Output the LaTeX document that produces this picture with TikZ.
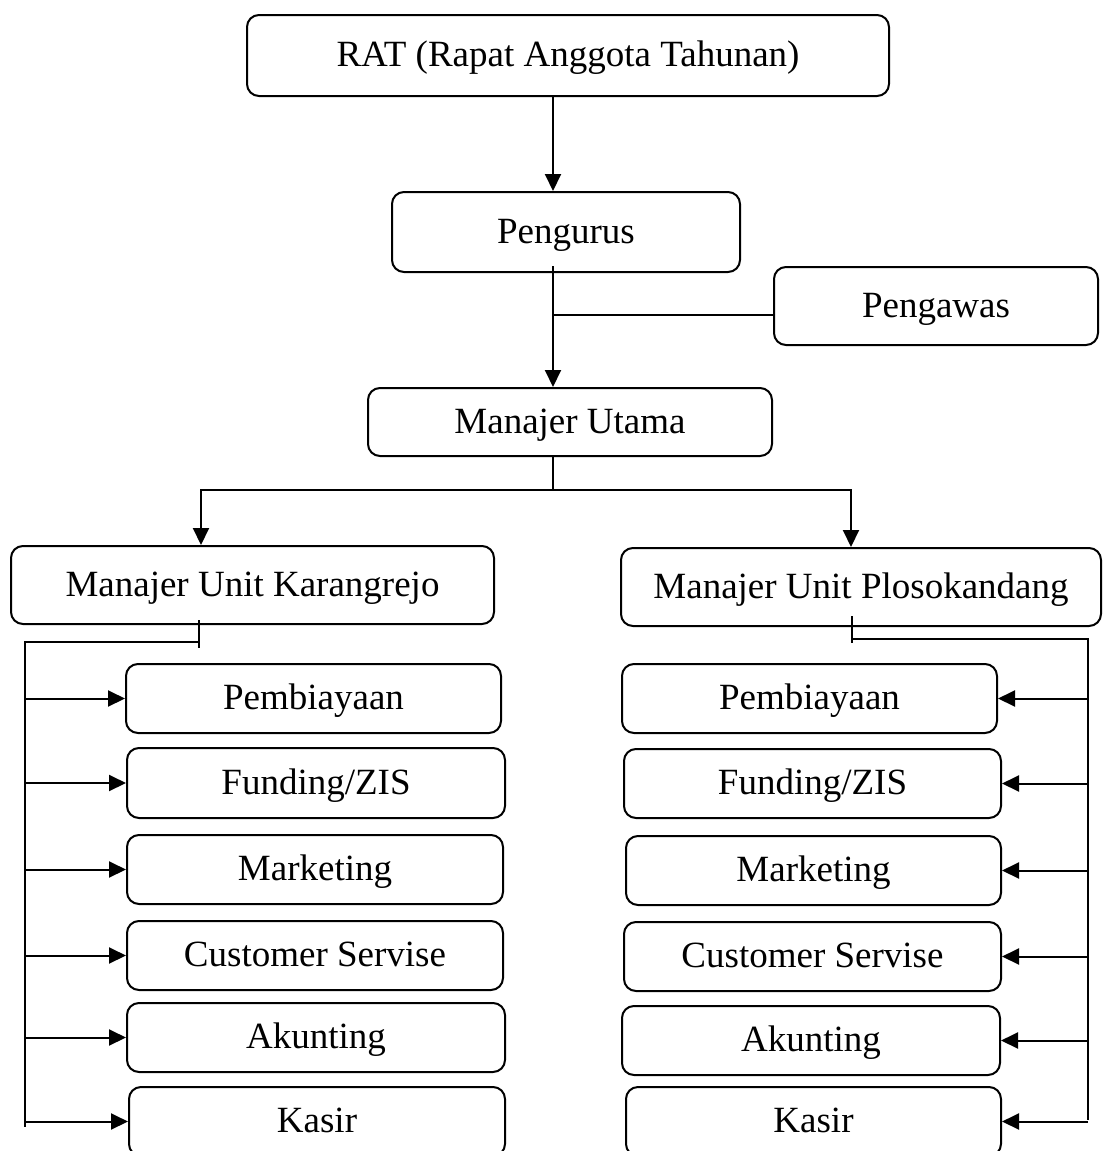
\documentclass[tikz,border=0pt]{standalone}
\usepackage{fontspec}
\setmainfont{Liberation Serif}
\usetikzlibrary{arrows.meta}
\tikzset{
  box/.style={draw, line width=2pt, rounded corners=12pt, inner sep=0pt, align=center,
    text height=28pt, text depth=6pt,
    font=\fontsize{37pt}{44pt}\selectfont},
  conn/.style={line width=2pt},
  arr/.style={line width=2pt, -{Triangle[length=17pt,width=16pt]}},
}
\begin{document}
\begin{tikzpicture}[x=1pt,y=-1pt]
\useasboundingbox (0,0) rectangle (1103,1151);
% top levels
\node[box, minimum width=642pt, minimum height=81pt] (RAT) at (568,55.5) {RAT (Rapat Anggota Tahunan)};
\node[box, minimum width=348pt, minimum height=80pt] (Peng) at (566,232) {Pengurus};
\node[box, minimum width=324pt, minimum height=78pt] (Pengawas) at (936,306) {Pengawas};
\node[box, minimum width=404pt, minimum height=68pt] (Utama) at (570,422) {Manajer Utama};
\node[box, minimum width=483pt, minimum height=78pt] (Karang) at (252.5,585) {Manajer Unit Karangrejo};
\node[box, minimum width=480pt, minimum height=78pt] (Ploso) at (861,587) {Manajer Unit Plosokandang};
% left children
\node[box, minimum width=375pt, minimum height=69pt] (LPem) at (313.5,698.5) {Pembiayaan};
\node[box, minimum width=378pt, minimum height=70pt] (LFun) at (316,783) {Funding/ZIS};
\node[box, minimum width=376pt, minimum height=69pt] (LMar) at (315,869.5) {Marketing};
\node[box, minimum width=376pt, minimum height=69pt] (LCus) at (315,955.5) {Customer Servise};
\node[box, minimum width=378pt, minimum height=69pt] (LAku) at (316,1037.5) {Akunting};
\node[box, minimum width=376pt, minimum height=69pt] (LKas) at (317,1121.5) {Kasir};
% right children
\node[box, minimum width=375pt, minimum height=69pt] (RPem) at (809.5,698.5) {Pembiayaan};
\node[box, minimum width=377pt, minimum height=69pt] (RFun) at (812.5,783.5) {Funding/ZIS};
\node[box, minimum width=375pt, minimum height=69pt] (RMar) at (813.5,870.5) {Marketing};
\node[box, minimum width=377pt, minimum height=69pt] (RCus) at (812.5,956.5) {Customer Servise};
\node[box, minimum width=378pt, minimum height=69pt] (RAku) at (811,1040.5) {Akunting};
\node[box, minimum width=375pt, minimum height=69pt] (RKas) at (813.5,1121.5) {Kasir};
% helper coordinates
\coordinate (spine) at (553,0);
\coordinate (split) at (553,490);
\coordinate (ka) at (201,490);
\coordinate (pa) at (851,490);
\coordinate (ltick) at (199,642);
\coordinate (lbus) at (25,642);
\coordinate (rtick) at (852,639);
\coordinate (rbus) at (1088,639);
% top connectors
\draw[arr] (RAT.south -| spine) -- (Peng.north -| spine);
\draw[arr] (Peng.south -| spine) ++(0,-7) -- (Utama.north -| spine);
\draw[conn] (Pengawas.west) ++(0,9) -- (553,315);
\draw[conn] (Utama.south -| spine) -- (split);
\draw[arr] (split) -- (ka) -- (Karang.north -| ka);
\draw[arr] (split) -- (pa) -- (Ploso.north -| pa);
% left bus
\draw[conn] (Karang.south -| ltick) ++(0,-5) -- (199,648);
\draw[conn] (ltick) -- (lbus) -- (25,1127);
\foreach \n in {LPem,LFun,LMar,LCus,LAku,LKas}
  \draw[arr] (\n.west -| lbus) -- (\n.west);
% right bus
\draw[conn] (Ploso.south -| rtick) ++(0,-11) -- (852,643);
\draw[conn] (rtick) -- (rbus) -- (1088,1120);
\foreach \n in {RPem,RFun,RMar,RCus,RAku,RKas}
  \draw[arr] (\n.east -| rbus) -- (\n.east);
\end{tikzpicture}
\end{document}
